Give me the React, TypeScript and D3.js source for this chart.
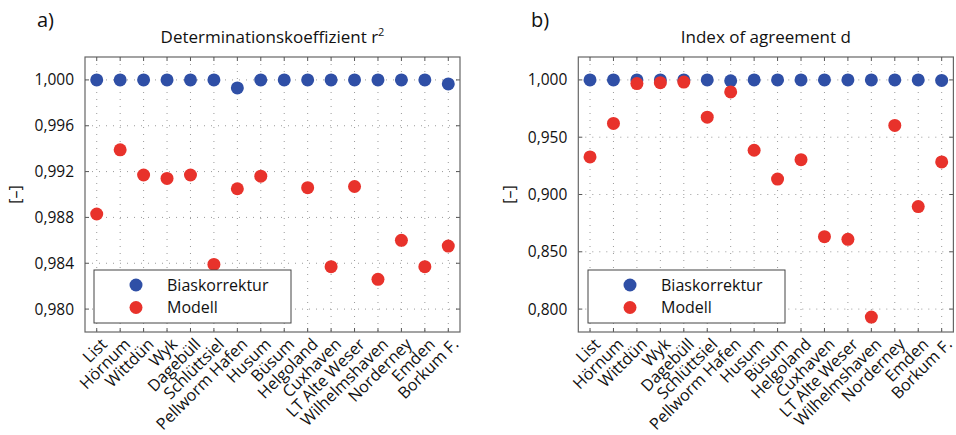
import React from "react";
import * as d3 from "d3";

const stations = [
  "List", "Hörnum", "Wittdün", "Wyk", "Dagebüll", "Schlüttsiel", "Pellworm Hafen", "Husum",
  "Büsum", "Helgoland", "Cuxhaven", "LT Alte Weser", "Wilhelmshaven", "Norderney", "Emden", "Borkum F.",
];

// Panel a) coefficient of determination r²
const r2Bias: (number | null)[] = [
  1.0, 1.0, 1.0, 1.0, 1.0, 1.0, 0.9993, 1.0, 1.0, 1.0, 1.0, 1.0, 1.0, 1.0, 1.0, 0.99965,
];
const r2Model: (number | null)[] = [
  0.9883, 0.9939, 0.9917, 0.9914, 0.9917, 0.9839, 0.9905, 0.9916,
  null, 0.9906, 0.9837, 0.9907, 0.9826, 0.9860, 0.9837, 0.9855,
];
const r2Ticks = [0.98, 0.984, 0.988, 0.992, 0.996, 1.0];

// Panel b) index of agreement d
const dBias: (number | null)[] = [
  1.0, 1.0, 1.0, 1.0, 1.0, 1.0, 0.9992, 1.0, 1.0, 1.0, 1.0, 1.0, 1.0, 1.0, 1.0, 0.9996,
];
const dModel: (number | null)[] = [
  0.9328, 0.962, 0.9968, 0.9976, 0.9981, 0.9675, 0.9895, 0.9386,
  0.9135, 0.9304, 0.8632, 0.8609, 0.793, 0.9603, 0.8895, 0.9284,
];
const dTicks = [0.8, 0.85, 0.9, 0.95, 1.0];

const legendLabels = ["Biaskorrektur", "Modell"];
const colors = ["#2f4fa6", "#e8322b"];

const FONT = "'Open Sans', sans-serif";
const TXT = "#111";
const fmt = (v: number) => v.toFixed(3).replace(".", ",");

type PanelProps = {
  x0: number;
  x1: number;
  yDomain: [number, number];
  ticks: number[];
  bias: (number | null)[];
  model: (number | null)[];
  title: React.ReactNode;
  letter: string;
  letterX: number;
  yLabelX: number;
  legendX: number;
  id: string;
};

function Panel(p: PanelProps) {
  const top = 57;
  const bottom = 332;
  const x = d3.scaleLinear().domain([0.5, stations.length + 0.5]).range([p.x0, p.x1]);
  const y = d3.scaleLinear().domain(p.yDomain).range([bottom, top]);
  const idx = d3.range(stations.length);
  const r = 6.5;
  const tl = 4;
  const cx = (p.x0 + p.x1) / 2;
  const series = [p.bias, p.model];
  return (
    <g>
      <defs>
        <clipPath id={p.id}>
          <rect x={p.x0} y={top} width={p.x1 - p.x0} height={bottom - top} />
        </clipPath>
      </defs>
      <rect x={p.x0} y={top} width={p.x1 - p.x0} height={bottom - top} fill="#fff" />
      {/* grid */}
      {idx.map((i) => (
        <line key={"gv" + i} x1={x(i + 1)} x2={x(i + 1)} y1={top} y2={bottom}
          stroke="#9a9a9a" strokeWidth={1} strokeDasharray="1,6" />
      ))}
      {p.ticks.map((t) => (
        <line key={"gh" + t} x1={p.x0} x2={p.x1} y1={y(t)} y2={y(t)}
          stroke="#9a9a9a" strokeWidth={1} strokeDasharray="1,6" />
      ))}
      {/* tick marks */}
      {idx.map((i) => (
        <g key={"tx" + i}>
          <line x1={x(i + 1)} x2={x(i + 1)} y1={bottom} y2={bottom - tl} stroke="#555" />
          <line x1={x(i + 1)} x2={x(i + 1)} y1={top} y2={top + tl} stroke="#555" />
        </g>
      ))}
      {p.ticks.map((t) => (
        <g key={"ty" + t}>
          <line x1={p.x0} x2={p.x0 + tl} y1={y(t)} y2={y(t)} stroke="#555" />
          <line x1={p.x1} x2={p.x1 - tl} y1={y(t)} y2={y(t)} stroke="#555" />
          <text x={p.x0 - 11} y={y(t)} dy="0.36em" textAnchor="end" fontSize={15.5}
            fontFamily={FONT} fill={TXT}>{fmt(t)}</text>
        </g>
      ))}
      {/* points */}
      <g clipPath={`url(#${p.id})`}>
        {series.map((s, k) =>
          s.map((v, i) =>
            v == null ? null : (
              <circle key={k + "-" + i} cx={x(i + 1)} cy={y(v)} r={r} fill={colors[k]} />
            )
          )
        )}
      </g>
      {/* frame */}
      <rect x={p.x0} y={top} width={p.x1 - p.x0} height={bottom - top} fill="none"
        stroke="#666" strokeWidth={1.2} />
      {/* legend */}
      <g>
        <rect x={p.legendX} y={270} width={197} height={53} fill="#fff" stroke="#444" strokeWidth={1} />
        {legendLabels.map((l, k) => (
          <g key={l}>
            <circle cx={p.legendX + 42} cy={285 + k * 22.5} r={r} fill={colors[k]} />
            <text x={p.legendX + 73} y={285 + k * 22.5} dy="0.36em" fontSize={16}
              fontFamily={FONT} fill={TXT}>{l}</text>
          </g>
        ))}
      </g>
      {/* x labels */}
      {stations.map((s, i) => (
        <text key={s} transform={`translate(${x(i + 1) + 3},${bottom + 5}) rotate(-45)`}
          textAnchor="end" dy="0.72em" fontSize={16.3} fontFamily={FONT} fill={TXT}>{s}</text>
      ))}
      {/* titles */}
      <text x={cx} y={43} textAnchor="middle" fontSize={17} fontFamily={FONT} fill={TXT}>{p.title}</text>
      <text x={p.letterX} y={27} fontSize={20} fontFamily={FONT} fill={TXT}>{p.letter}</text>
      <text transform={`translate(${p.yLabelX},${(top + bottom) / 2}) rotate(-90)`} textAnchor="middle"
        fontSize={16} fontFamily={FONT} fill={TXT}>[–]</text>
    </g>
  );
}

export default function App() {
  return (
    <svg width={956} height={435} style={{ position: "absolute", left: 0, top: 0, background: "#fff" }}>
      <Panel
        id="clipA" x0={85} x1={460} yDomain={[0.978, 1.002]} ticks={r2Ticks}
        bias={r2Bias} model={r2Model}
        title={<>Determinationskoeffizient r<tspan dy="-7" fontSize={11}>2</tspan></>}
        letter="a)" letterX={37} yLabelX={21} legendX={94}
      />
      <Panel
        id="clipB" x0={578.3} x1={953.4} yDomain={[0.78, 1.02]} ticks={dTicks}
        bias={dBias} model={dModel}
        title="Index of agreement d"
        letter="b)" letterX={531} yLabelX={515} legendX={588}
      />
    </svg>
  );
}
